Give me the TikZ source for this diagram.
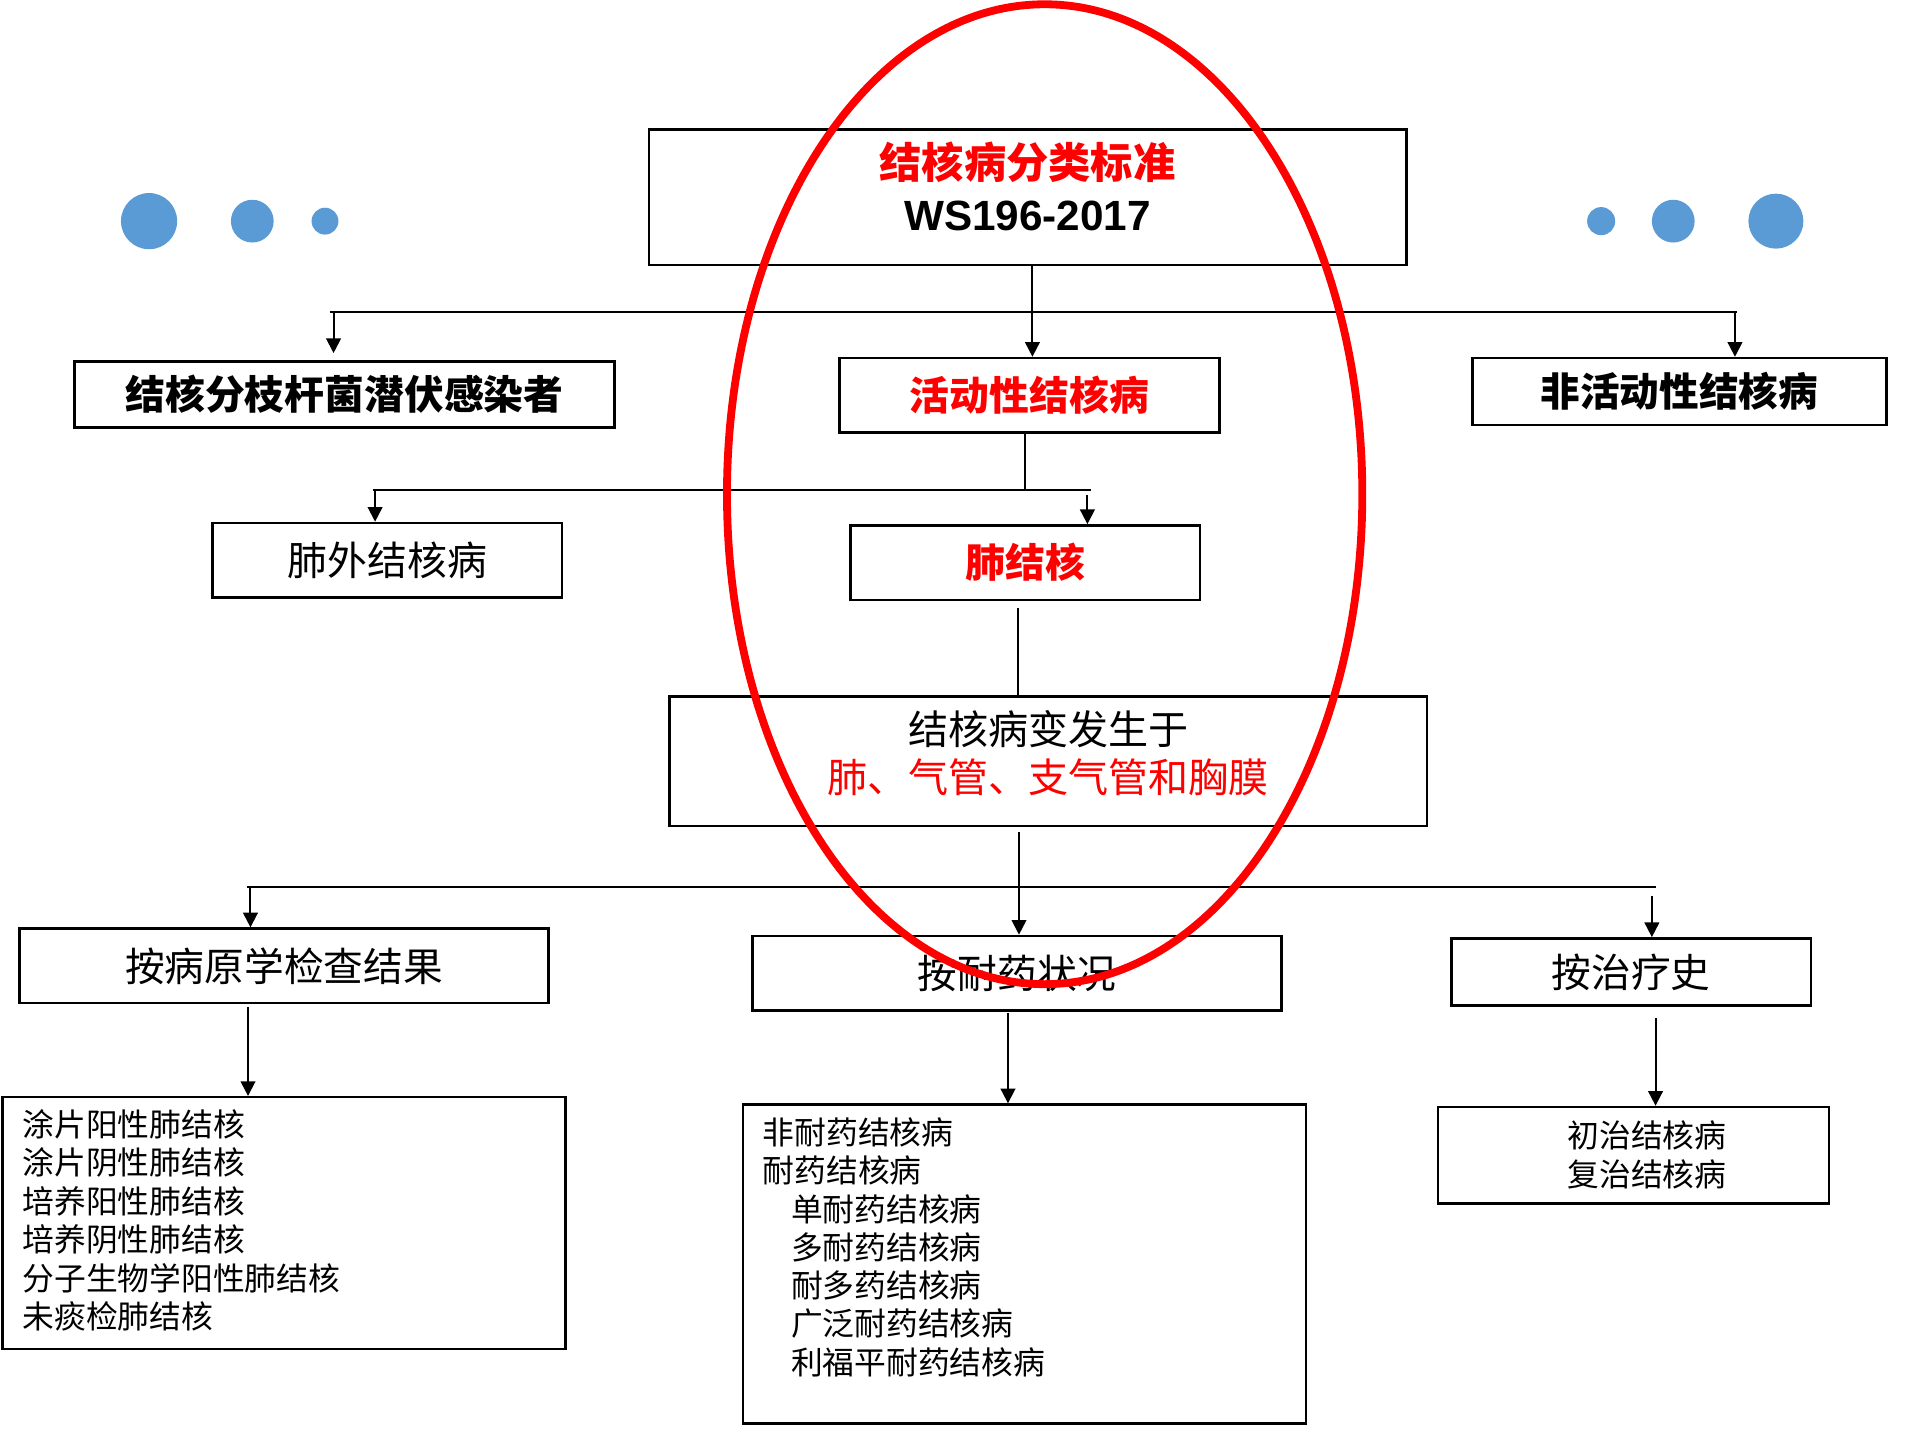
\documentclass[tikz,border=0pt]{standalone}
\usepackage{fontspec}
\usetikzlibrary{arrows.meta}
\newfontfamily\cjk{Noto Sans CJK SC}
\newfontfamily\latf{Liberation Sans}
\definecolor{dotblue}{HTML}{5B9BD5}
\definecolor{tred}{HTML}{FF0000}
\begin{document}
\begin{tikzpicture}[x=0.5pt,y=-0.5pt,
  box/.style={draw,line width=1pt,inner sep=0pt,anchor=center},
  txt/.style={inner sep=0pt,anchor=center},
  ltxt/.style={inner sep=0pt,anchor=west,font=\cjk\fontsize{13}{15}\selectfont},
  conn/.style={line width=0.8pt},
  arr/.style={line width=0.8pt,-{Triangle[width=6pt,length=6pt]}},
  dot/.style={fill=dotblue}]
\useasboundingbox (0,0) rectangle (1569,1178);

% decorative dots
\fill[dot] (122,181) circle[radius=11.5pt];
\fill[dot] (206.5,181) circle[radius=8.75pt];
\fill[dot] (266,181) circle[radius=5.5pt];
\fill[dot] (1310.5,181) circle[radius=5.75pt];
\fill[dot] (1369.5,181) circle[radius=8.75pt];
\fill[dot] (1453.5,181) circle[radius=11.25pt];

% title box
\node[box,minimum width=310pt,minimum height=55.5pt] (top) at (841,161.5) {};
\node[txt,font=\cjk\bfseries\fontsize{17.3}{20}\selectfont,text=tred] (title1) at (841,133) {结核病分类标准};
\node[txt,font=\latf\bfseries\fontsize{17.3}{20}\selectfont] (title2) at (841,177) {WS196-2017};

% level 1
\node[box,minimum width=221pt,minimum height=27pt,font=\cjk\bfseries\fontsize{16.3}{20}\selectfont] (latent) at (282,323) {结核分枝杆菌潜伏感染者};
\node[box,minimum width=155.5pt,minimum height=30.5pt,font=\cjk\bfseries\fontsize{16.3}{20}\selectfont,text=tred] (active) at (842.5,323.5) {活动性结核病};
\node[box,minimum width=169.5pt,minimum height=27.5pt,font=\cjk\bfseries\fontsize{16.2}{20}\selectfont] (inactive) at (1374.5,320.5) {非活动性结核病};

% level 2
\node[box,minimum width=143pt,minimum height=30.5pt,font=\cjk\fontsize{16.3}{20}\selectfont] (extra) at (317,458.5) {肺外结核病};
\node[box,minimum width=143pt,minimum height=30.5pt,font=\cjk\bfseries\fontsize{16.3}{20}\selectfont,text=tred] (pulm) at (839,460.5) {肺结核};

% site box
\node[box,minimum width=310pt,minimum height=53pt] (site) at (858,623) {};
\node[txt,font=\cjk\fontsize{16.4}{20}\selectfont] (site1) at (858,597) {结核病变发生于};
\node[txt,font=\cjk\fontsize{16.4}{20}\selectfont,text=tred] (site2) at (858,636) {肺、气管、支气管和胸膜};

% level 3
\node[box,minimum width=216.5pt,minimum height=30.5pt,font=\cjk\fontsize{16.25}{20}\selectfont] (bypath) at (232.5,790.5) {按病原学检查结果};
\node[box,minimum width=216.5pt,minimum height=30.5pt,font=\cjk\fontsize{16.25}{20}\selectfont] (byres) at (832.5,796.5) {按耐药状况};
\node[box,minimum width=147pt,minimum height=27.5pt,font=\cjk\fontsize{16.25}{20}\selectfont] (byhist) at (1335,795.5) {按治疗史};

% level 4 boxes
\node[box,minimum width=230.5pt,minimum height=103pt] (list1) at (232.5,1001) {};
\node[box,minimum width=230.5pt,minimum height=130.5pt] (list2) at (838.5,1034.5) {};
\node[box,minimum width=160pt,minimum height=39.5pt] (list3) at (1337,945.5) {};

\node[ltxt] (p1) at (18,920) {涂片阳性肺结核};
\node[ltxt] (p2) at (18,951.5) {涂片阴性肺结核};
\node[ltxt] (p3) at (18,983) {培养阳性肺结核};
\node[ltxt] (p4) at (18,1014.5) {培养阴性肺结核};
\node[ltxt] (p5) at (18,1046) {分子生物学阳性肺结核};
\node[ltxt] (p6) at (18,1077.5) {未痰检肺结核};

\node[ltxt] (r1) at (624,927) {非耐药结核病};
\node[ltxt] (r2) at (624,958.3) {耐药结核病};
\node[ltxt] (r3) at (647,989.6) {单耐药结核病};
\node[ltxt] (r4) at (647,1020.9) {多耐药结核病};
\node[ltxt] (r5) at (647,1052.2) {耐多药结核病};
\node[ltxt] (r6) at (647,1083.5) {广泛耐药结核病};
\node[ltxt] (r7) at (647,1114.8) {利福平耐药结核病};

\node[txt,font=\cjk\fontsize{13}{15}\selectfont] (h1) at (1348,929) {初治结核病};
\node[txt,font=\cjk\fontsize{13}{15}\selectfont] (h2) at (1348,961) {复治结核病};

% junction coordinates
\coordinate (j1a) at (270,255);
\coordinate (j1b) at (1422,255);
\coordinate (a1) at (273,255);
\coordinate (a2) at (845,217);
\coordinate (a3) at (1420,255);
\coordinate (j2a) at (305,401);
\coordinate (j2b) at (893,401);
\coordinate (b0) at (839,354);
\coordinate (b1) at (307,401);
\coordinate (b2) at (890,405);
\coordinate (c0) at (833,498);
\coordinate (j3a) at (202,726);
\coordinate (j3b) at (1355,726);
\coordinate (d0) at (834,681);
\coordinate (d1) at (205,726);
\coordinate (d3) at (1352,733);
\coordinate (e1) at (203,824);
\coordinate (e2) at (825,829);
\coordinate (e3) at (1355,833);

% connectors level 1
\draw[conn] (j1a) -- (j1b);
\draw[arr] (a2) -- (a2 |- active.north);
\draw[arr] (a1) -- ([yshift=3pt]a1 |- latent.north);
\draw[arr] (a3) -- (a3 |- inactive.north);
% level 2
\draw[conn] (b0) -- (b0 |- j2a);
\draw[conn] (j2a) -- (j2b);
\draw[arr] (b1) -- (b1 |- extra.north);
\draw[arr] (b2) -- (b2 |- pulm.north);
% to site
\draw[conn] (c0) -- (c0 |- site.north);
% level 3
\draw[conn] (j3a) -- (j3b);
\draw[arr] (d0) -- (d0 |- byres.north);
\draw[arr] (d1) -- (d1 |- bypath.north);
\draw[arr] (d3) -- (d3 |- byhist.north);
% level 4
\draw[arr] (e1) -- (e1 |- list1.north);
\draw[arr] (e2) -- (e2 |- list2.north);
\draw[arr] (e3) -- (e3 |- list3.north);

% highlight ellipse
\draw[tred,line width=3.2pt] (855,404.5) ellipse[x radius=130pt,y radius=200.5pt];
\end{tikzpicture}
\end{document}
